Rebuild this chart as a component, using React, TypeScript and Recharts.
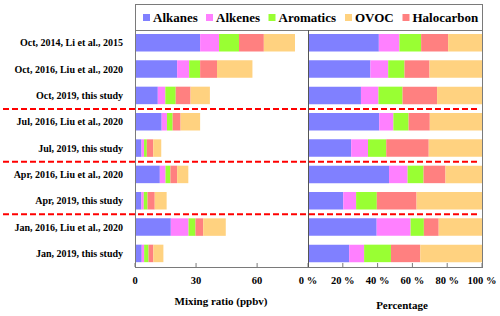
import { BarChart, Bar, XAxis, YAxis } from "recharts";

const rows = [
  "Oct, 2014, Li et al., 2015",
  "Oct, 2016, Liu et al., 2020",
  "Oct, 2019, this study",
  "Jul, 2016, Liu et al., 2020",
  "Jul, 2019, this study",
  "Apr, 2016, Liu et al., 2020",
  "Apr, 2019, this study",
  "Jan, 2016, Liu et al., 2020",
  "Jan, 2019, this study",
];

// mixing ratios, ppbv
const alkanes = [32.0, 20.7, 11.2, 13.1, 3.2, 12.2, 3.15, 17.6, 3.3];
const alkenes = [9.3, 5.9, 3.7, 2.6, 1.25, 2.8, 1.15, 8.7, 1.2];
const aromatics = [9.8, 5.4, 5.1, 2.8, 1.35, 2.4, 1.85, 3.4, 2.15];
const halocarbon = [12.2, 8.3, 7.3, 3.9, 3.15, 3.3, 3.55, 3.8, 2.35];
const ovoc = [15.3, 17.4, 9.5, 9.6, 3.95, 5.5, 5.85, 11.1, 4.95];

const mixTicks = [0, 30, 60];
const pctTicks = [0, 0.2, 0.4, 0.6, 0.8, 1];
// rows after which a dashed separator is drawn
const groupBreaks = [3, 5, 7];

const COLORS = {
  Alkanes: "#8080ff",
  Alkenes: "#ff80ff",
  Aromatics: "#99ff33",
  OVOC: "#ffd280",
  Halocarbon: "#ff8080",
};

// stacking order in the bars (differs from legend order)
const stackKeys = ["Alkanes", "Alkenes", "Aromatics", "Halocarbon", "OVOC"];
const legendKeys = ["Alkanes", "Alkenes", "Aromatics", "OVOC", "Halocarbon"];

const data = rows.map((label, i) => ({
  label,
  Alkanes: alkanes[i],
  Alkenes: alkenes[i],
  Aromatics: aromatics[i],
  Halocarbon: halocarbon[i],
  OVOC: ovoc[i],
}));

const FONT = '"Liberation Serif", "Times New Roman", serif';
const H = 316;
const PLOT_TOP = 30;
const PLOT_BOTTOM = 267;
const LEFT_X = 135;
const MID_X = 308;
const RIGHT_X = 482;
const PAD = 20;
const AXIS_COLOR = "#7a7a7a";

function makeTick(fmt: (v: number) => string) {
  return (props: any) => {
    const { x, payload } = props;
    return (
      <g>
        <line x1={x} x2={x} y1={PLOT_BOTTOM - 4} y2={PLOT_BOTTOM} stroke={AXIS_COLOR} />
        <text
          x={x}
          y={PLOT_BOTTOM + 17}
          textAnchor="middle"
          fontFamily={FONT}
          fontWeight="bold"
          fontSize={10.5}
          fill="#000"
        >
          {fmt(payload.value)}
        </text>
      </g>
    );
  };
}

const RowTick = (props: any) => {
  const { y, payload } = props;
  return (
    <text
      x={LEFT_X - 12}
      y={y}
      dy="0.3em"
      textAnchor="end"
      fontFamily={FONT}
      fontWeight="bold"
      fontSize={10}
      fill="#000"
    >
      {payload.value}
    </text>
  );
};

const legendPos: Record<string, number> = {
  Alkanes: 143,
  Alkenes: 206,
  Aromatics: 268.5,
  OVOC: 345,
  Halocarbon: 402.5,
};

export default function App() {
  const band = (PLOT_BOTTOM - PLOT_TOP) / rows.length;

  return (
    <div style={{ position: "absolute", left: 0, top: 0, width: 500, height: H, background: "#fff" }}>
      <div style={{ position: "absolute", left: 0, top: 0 }}>
        <BarChart
          width={MID_X + 2}
          height={H}
          data={data}
          layout="vertical"
          margin={{ top: PLOT_TOP, right: 2, bottom: 0, left: 0 }}
          barSize={17.5}
        >
          <XAxis
            type="number"
            domain={[0, 85]}
            ticks={mixTicks}
            interval={0}
            allowDataOverflow
            axisLine={false}
            tickLine={false}
            tickSize={0}
            height={H - PLOT_BOTTOM}
            tick={makeTick((v) => String(v))}
          />
          <YAxis
            type="category"
            dataKey="label"
            width={LEFT_X}
            interval={0}
            axisLine={false}
            tickLine={false}
            tickSize={0}
            tick={RowTick}
          />
          {stackKeys.map((k) => (
            <Bar key={k} dataKey={k} stackId="a" fill={COLORS[k as keyof typeof COLORS]} isAnimationActive={false} />
          ))}
        </BarChart>
      </div>
      <div style={{ position: "absolute", left: MID_X - PAD, top: 0 }}>
        <BarChart
          width={500 - MID_X + PAD}
          height={H}
          data={data}
          layout="vertical"
          stackOffset="expand"
          margin={{ top: PLOT_TOP, right: 500 - RIGHT_X, bottom: 0, left: PAD }}
          barSize={17.5}
        >
          <XAxis
            type="number"
            domain={[0, 1]}
            ticks={pctTicks}
            interval={0}
            axisLine={false}
            tickLine={false}
            tickSize={0}
            height={H - PLOT_BOTTOM}
            tick={makeTick((v) => `${Math.round(v * 100)} %`)}
          />
          <YAxis type="category" dataKey="label" hide />
          {stackKeys.map((k) => (
            <Bar key={k} dataKey={k} stackId="a" fill={COLORS[k as keyof typeof COLORS]} isAnimationActive={false} />
          ))}
        </BarChart>
      </div>
      <svg
        width={500}
        height={H}
        style={{ position: "absolute", left: 0, top: 0, pointerEvents: "none" }}
      >
        <rect x={LEFT_X + 0.5} y={4.5} width={RIGHT_X - LEFT_X} height={PLOT_BOTTOM - 4} fill="none" stroke={AXIS_COLOR} />
        <line x1={LEFT_X} x2={RIGHT_X} y1={PLOT_TOP + 0.5} y2={PLOT_TOP + 0.5} stroke={AXIS_COLOR} />
        <line x1={MID_X + 0.5} x2={MID_X + 0.5} y1={PLOT_TOP} y2={PLOT_BOTTOM} stroke="#555" />
        {groupBreaks.map((b) => (
          <line
            key={b}
            x1={3}
            x2={480}
            y1={PLOT_TOP + b * band}
            y2={PLOT_TOP + b * band}
            stroke="#ff0000"
            strokeWidth={2}
            strokeDasharray="6 3"
          />
        ))}
        {legendKeys.map((k) => (
          <g key={k}>
            <rect x={legendPos[k]} y={14} width={7} height={7} fill={COLORS[k as keyof typeof COLORS]} />
            <text x={legendPos[k] + 10} y={22.3} fontFamily={FONT} fontWeight="bold" fontSize={13} fill="#000">
              {k}
            </text>
          </g>
        ))}
        <text x={221} y={304.5} textAnchor="middle" fontFamily={FONT} fontWeight="bold" fontSize={11} fill="#000">
          Mixing ratio (ppbv)
        </text>
        <text x={402} y={308.5} textAnchor="middle" fontFamily={FONT} fontWeight="bold" fontSize={11} fill="#000">
          Percentage
        </text>
      </svg>
    </div>
  );
}
